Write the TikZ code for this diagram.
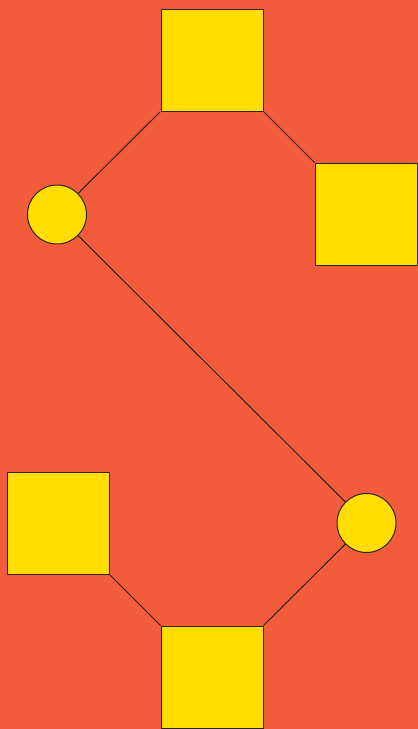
\documentclass[tikz,border=0pt]{standalone}
\usepackage{xcolor}
\usepackage{tikz}
\usetikzlibrary{positioning}
\definecolor{bgred}{RGB}{242,92,58}
\definecolor{tileyellow}{RGB}{255,221,0}
\definecolor{edgedark}{RGB}{45,35,30}

\begin{document}
\begin{tikzpicture}[
				x=1pt, y=-1pt,
				tile/.style={draw=edgedark, line width=1pt, fill=tileyellow,
						rectangle, minimum size=102pt, inner sep=0pt},
				dot/.style={draw=edgedark, line width=1pt, fill=tileyellow,
						circle, minimum size=59pt, inner sep=0pt},
				link/.style={draw=edgedark, line width=1pt}]

			% background
			\fill[bgred] (0,0) rectangle (418,729);
			\useasboundingbox (0,0) rectangle (418,729);

			% upper group
			\node[dot]  (dotup)     at (57,214.5) {};
			\node[tile] (tiletop)   at (212,60)   {};
			\node[tile] (tileright) at (366,214)  {};

			% lower group
			\node[dot]  (dotlow)    at (366.5,523) {};
			\node[tile] (tileleft)  at (58,523)    {};
			\node[tile] (tilebot)   at (212,677)   {};

			% links
			\draw[link] (dotup) -- (tiletop.south west);
			\draw[link] (tiletop.south east) -- (tileright.north west);
			\draw[link] (dotup) -- (dotlow);
			\draw[link] (dotlow) -- (tilebot.north east);
			\draw[link] (tileleft.south east) -- (tilebot.north west);

		\end{tikzpicture}
\end{document}
